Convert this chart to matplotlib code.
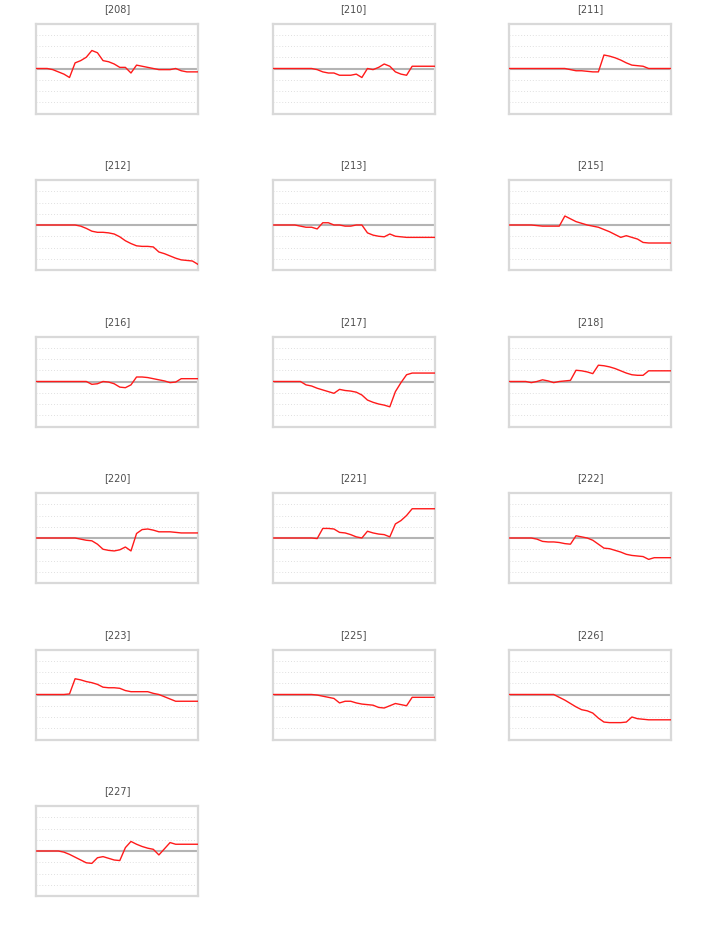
import matplotlib
matplotlib.use("Agg")
import matplotlib.pyplot as plt

# Panel labels, in reading order
labels = ["[208]", "[210]", "[211]",
          "[212]", "[213]", "[215]",
          "[216]", "[217]", "[218]",
          "[220]", "[221]", "[222]",
          "[223]", "[225]", "[226]",
          "[227]"]

# Series values (30 steps each)
s208 = [0, 0, 0, -0.1, -0.3, -0.5, -0.8, 0.5, 0.7, 1.0, 1.6, 1.4, 0.7, 0.6, 0.4,
        0.1, 0.1, -0.4, 0.3, 0.2, 0.1, 0.0, -0.1, -0.1, -0.1, 0.0, -0.2, -0.3, -0.3, -0.3]
s210 = [0, 0, 0, 0, 0, 0, 0, 0, -0.1, -0.3, -0.4, -0.4, -0.6, -0.6, -0.6,
        -0.5, -0.8, 0.0, -0.1, 0.1, 0.4, 0.2, -0.3, -0.5, -0.6, 0.2, 0.2, 0.2, 0.2, 0.2]
s211 = [0, 0, 0, 0, 0, 0, 0, 0, 0, 0, 0, -0.1, -0.2, -0.2, -0.25,
        -0.3, -0.3, 1.2, 1.1, 0.95, 0.75, 0.5, 0.3, 0.25, 0.2, 0.0, 0, 0, 0, 0]
s212 = [0, 0, 0, 0, 0, 0, 0, 0, -0.1, -0.3, -0.55, -0.65, -0.65, -0.7, -0.8,
        -1.05, -1.4, -1.65, -1.85, -1.9, -1.9, -1.95, -2.4, -2.55, -2.75, -2.95, -3.1, -3.15, -3.2, -3.5]
s213 = [0, 0, 0, 0, 0, -0.1, -0.2, -0.2, -0.35, 0.2, 0.2, 0.0, 0.0, -0.1, -0.1,
        0.0, 0.0, -0.7, -0.9, -1.0, -1.05, -0.8, -1.0, -1.05, -1.1, -1.1, -1.1, -1.1, -1.1, -1.1]
s215 = [0, 0, 0, 0, 0, -0.05, -0.1, -0.1, -0.1, -0.1, 0.8, 0.55, 0.3, 0.15, 0.0,
        -0.1, -0.2, -0.4, -0.6, -0.85, -1.1, -0.95, -1.1, -1.25, -1.55, -1.6, -1.6, -1.6, -1.6, -1.6]
s216 = [0, 0, 0, 0, 0, 0, 0, 0, 0, 0, -0.25, -0.2, 0.0, -0.05, -0.2,
        -0.5, -0.55, -0.3, 0.4, 0.4, 0.35, 0.25, 0.15, 0.05, -0.1, -0.05, 0.25, 0.25, 0.25, 0.25]
s217 = [0, 0, 0, 0, 0, 0, -0.3, -0.4, -0.6, -0.75, -0.9, -1.05, -0.7, -0.8, -0.85,
        -0.95, -1.2, -1.65, -1.85, -2.0, -2.1, -2.25, -0.9, -0.1, 0.6, 0.75, 0.75, 0.75, 0.75, 0.75]
s218 = [0, 0, 0, 0, -0.1, 0.0, 0.15, 0.05, -0.1, 0.0, 0.05, 0.1, 1.0, 0.95, 0.85,
        0.7, 1.45, 1.4, 1.3, 1.15, 0.95, 0.75, 0.6, 0.55, 0.55, 0.95, 0.95, 0.95, 0.95, 0.95]
s220 = [0, 0, 0, 0, 0, 0, 0, 0, -0.1, -0.2, -0.25, -0.55, -1.0, -1.1, -1.15,
        -1.05, -0.8, -1.15, 0.4, 0.75, 0.8, 0.7, 0.55, 0.55, 0.55, 0.5, 0.45, 0.45, 0.45, 0.45]
s221 = [0, 0, 0, 0, 0, 0, 0, 0, -0.05, 0.85, 0.85, 0.8, 0.5, 0.45, 0.3,
        0.1, 0.0, 0.6, 0.45, 0.35, 0.3, 0.1, 1.25, 1.55, 2.0, 2.6, 2.6, 2.6, 2.6, 2.6]
s222 = [0, 0, 0, 0, 0, -0.1, -0.3, -0.35, -0.35, -0.4, -0.5, -0.55, 0.2, 0.1, 0.0,
        -0.2, -0.55, -0.9, -0.95, -1.1, -1.25, -1.45, -1.55, -1.6, -1.65, -1.9, -1.75, -1.75, -1.75, -1.75]
s223 = [0, 0, 0, 0, 0, 0, 0.05, 1.4, 1.3, 1.15, 1.05, 0.9, 0.65, 0.6, 0.6,
        0.55, 0.35, 0.25, 0.25, 0.25, 0.25, 0.1, 0.0, -0.2, -0.4, -0.6, -0.6, -0.6, -0.6, -0.6]
s225 = [0, 0, 0, 0, 0, 0, 0, 0, -0.05, -0.15, -0.25, -0.35, -0.75, -0.6, -0.6,
        -0.75, -0.85, -0.9, -0.95, -1.15, -1.2, -1.0, -0.8, -0.9, -1.0, -0.25, -0.25, -0.25, -0.25, -0.25]
s226 = [0, 0, 0, 0, 0, 0, 0, 0, 0, -0.25, -0.5, -0.8, -1.1, -1.35, -1.45,
        -1.65, -2.1, -2.45, -2.5, -2.5, -2.5, -2.45, -2.0, -2.15, -2.2, -2.25, -2.25, -2.25, -2.25, -2.25]
s227 = [0, 0, 0, 0, 0, -0.1, -0.3, -0.55, -0.8, -1.05, -1.1, -0.6, -0.5, -0.65, -0.8,
        -0.85, 0.3, 0.85, 0.6, 0.4, 0.25, 0.15, -0.35, 0.2, 0.75, 0.6, 0.6, 0.6, 0.6, 0.6]

series = [s208, s210, s211, s212, s213, s215, s216, s217, s218,
          s220, s221, s222, s223, s225, s226, s227]

W, H = 709, 940
fig = plt.figure(figsize=(W / 100, H / 100), dpi=100)

for k, (label, values) in enumerate(zip(labels, series)):
    row, col = divmod(k, 3)
    # panel box in pixels
    left = 36 + col * 236.5
    top = 23.5 + row * 156.5
    ax = fig.add_axes([left / W, 1 - (top + 90) / H, 162 / W, 90 / H])

    for y in [-3, -2, -1, 1, 2, 3]:
        ax.axhline(y, color="#e0e0e0", linewidth=0.7, linestyle=(0, (1, 2)), zorder=1)
    ax.axhline(0, color="#b4b4b4", linewidth=1.5, zorder=2)
    ax.plot(range(len(values)), values, color="#ff1a1a", linewidth=1.0, zorder=3)

    ax.set_xlim(0, len(values) - 1)
    ax.set_ylim(-4, 4)
    ax.set_xticks([])
    ax.set_yticks([])
    for spine in ax.spines.values():
        spine.set_color("#d9d9d9")
        spine.set_linewidth(1.6)
    ax.set_title(label, fontsize=7, color="#4d4d4d", pad=8.5)

fig.savefig("out.png", dpi=100)
